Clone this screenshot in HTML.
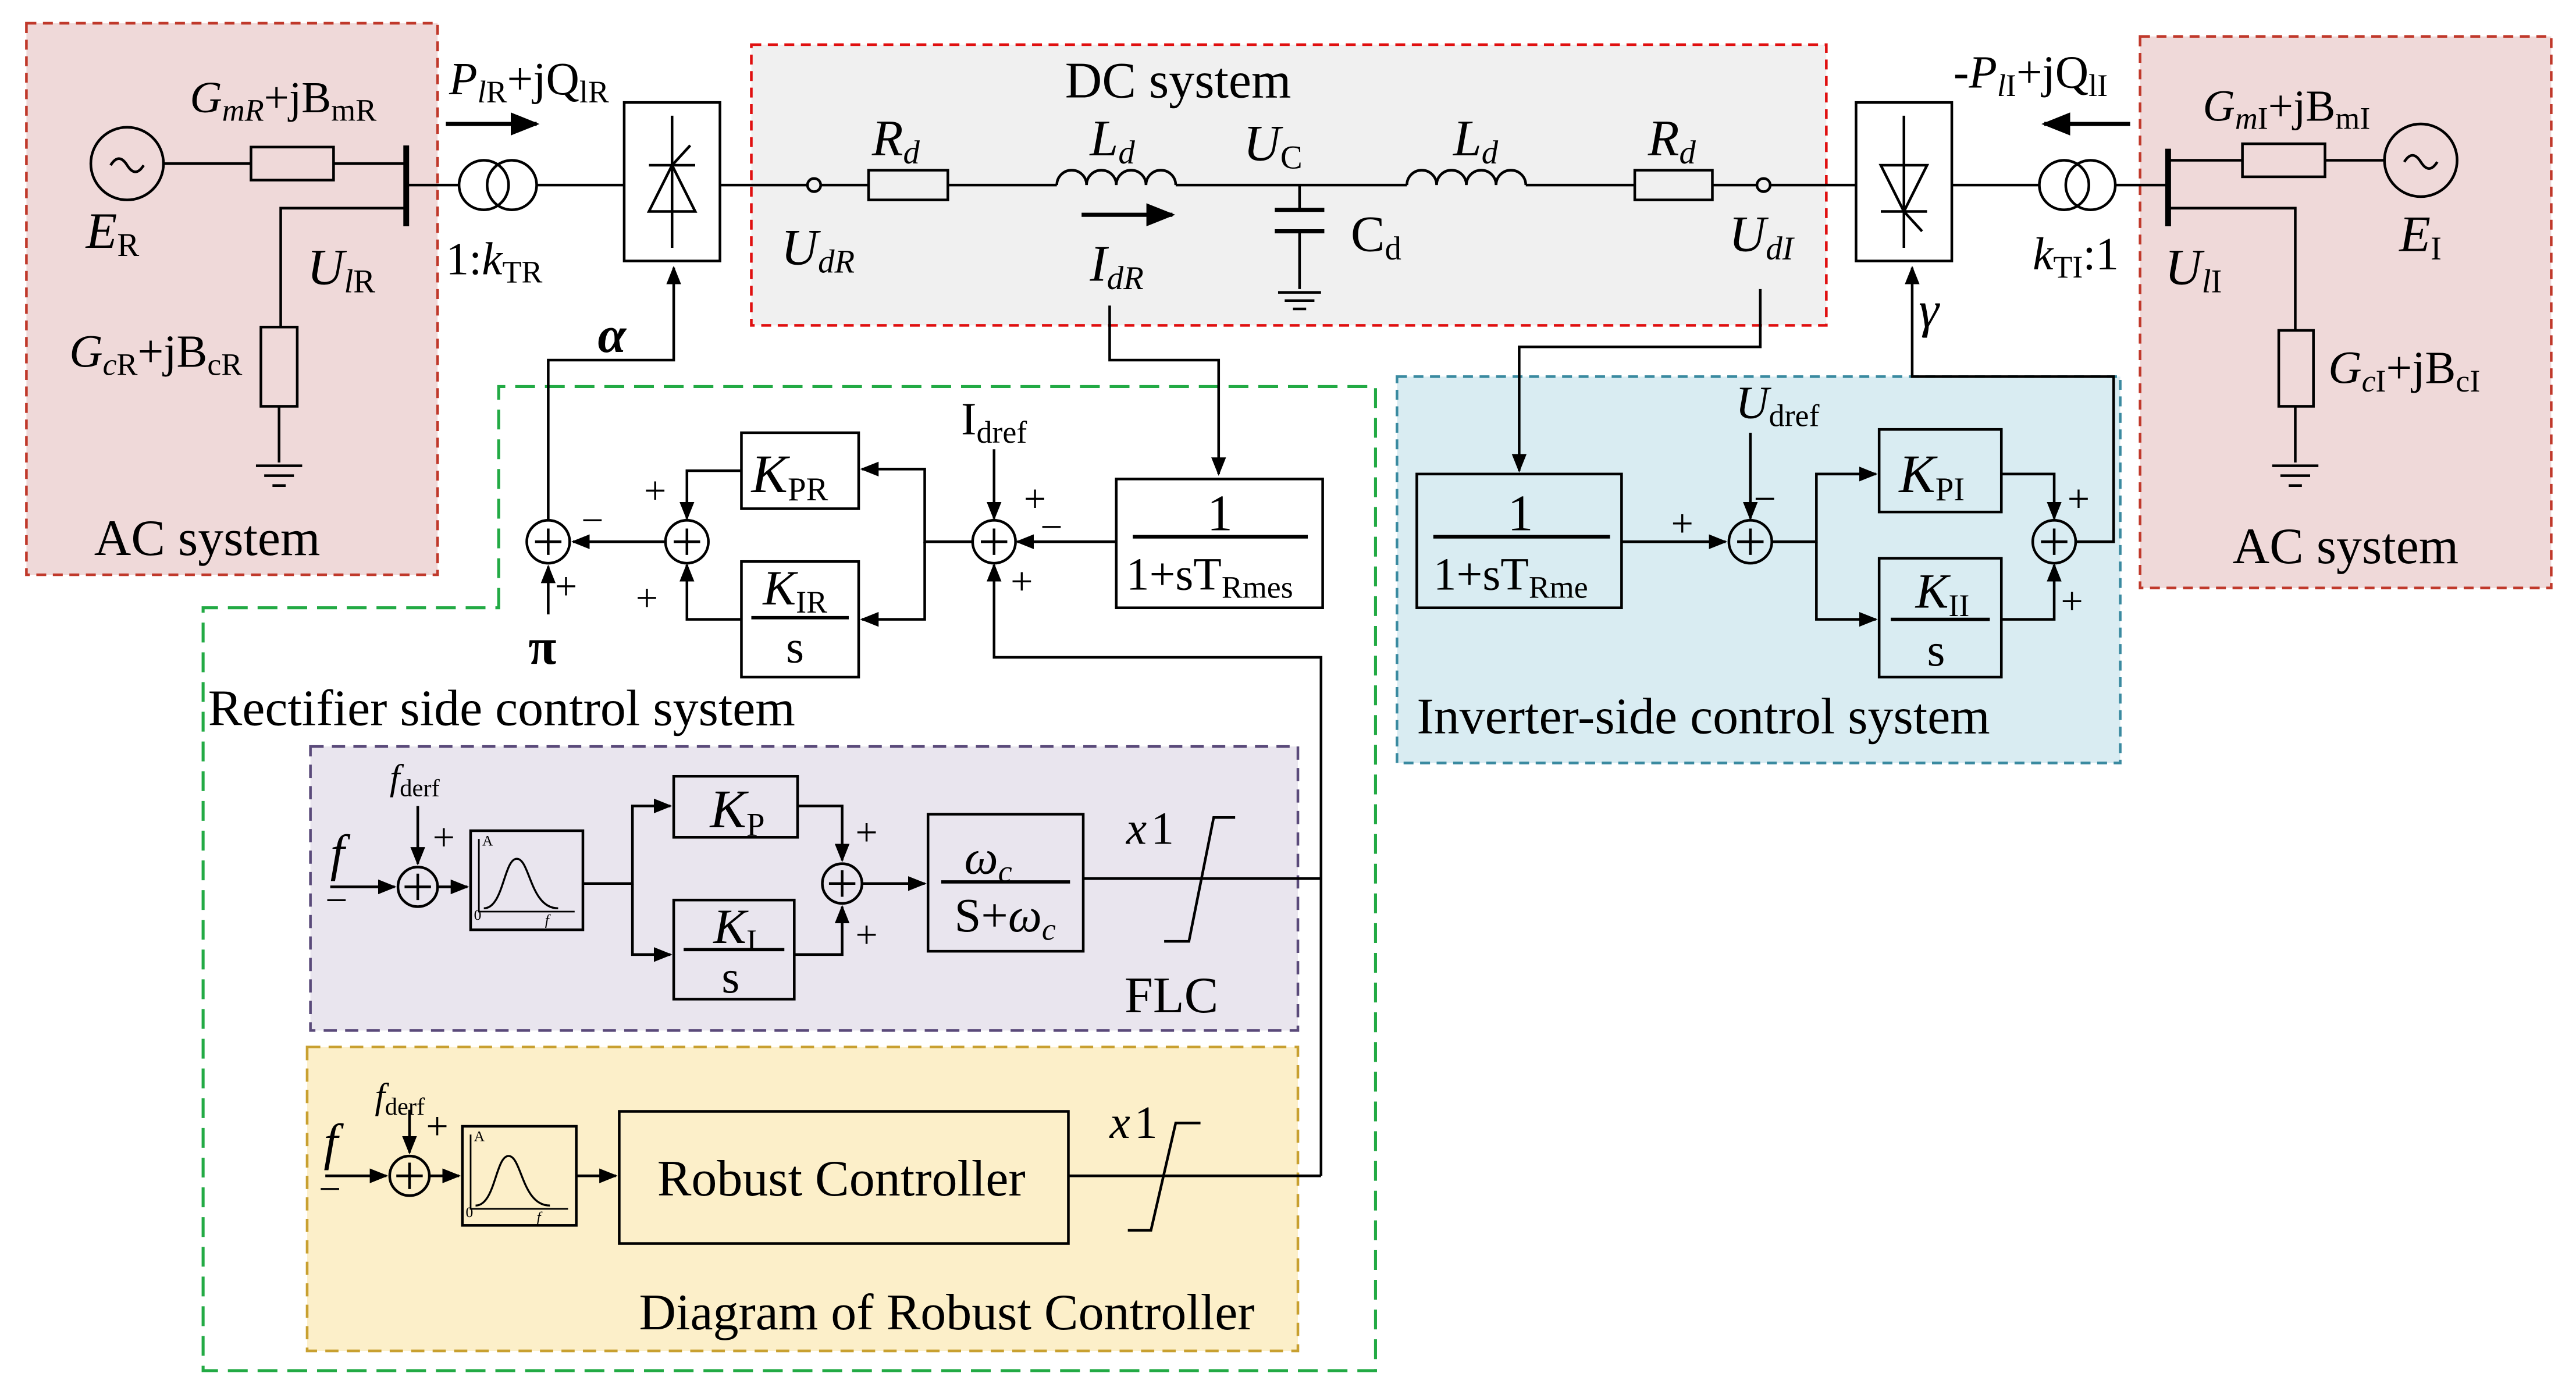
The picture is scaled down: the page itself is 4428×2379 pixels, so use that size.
<!DOCTYPE html>
<html><head><meta charset="utf-8"><style>
html,body{margin:0;padding:0;background:#fff;}
svg{display:block;}
text{font-family:"Liberation Serif",serif;fill:#000;}
</style></head><body>
<svg width="4428" height="2379" viewBox="0 0 1560 838" xmlns="http://www.w3.org/2000/svg">
<defs>
<marker id="a" viewBox="0 0 10 10" refX="9" refY="5" markerWidth="7" markerHeight="7" orient="auto"><path d="M0,1 L10,5 L0,9 z" fill="#000"/></marker>
</defs>
<rect width="1560" height="838" fill="#fff"/>
<rect x="16" y="14" width="249" height="334" fill="#efd9d9" stroke="#c0392b" stroke-width="1.6" stroke-dasharray="6,4"/>
<rect x="455" y="27" width="651" height="170" fill="#f0f0f0" stroke="#e01010" stroke-width="1.6" stroke-dasharray="6,4"/>
<rect x="1296" y="22" width="249" height="334" fill="#efd9d9" stroke="#c0392b" stroke-width="1.6" stroke-dasharray="6,4"/>
<path d="M302,368 L302,234 L833,234 L833,830 L123,830 L123,368 Z" fill="none" stroke="#22aa44" stroke-width="1.8" stroke-dasharray="12,6"/>
<rect x="846" y="228" width="438" height="234" fill="#d9ecf2" stroke="#3a8aa0" stroke-width="1.6" stroke-dasharray="6,4"/>
<rect x="188" y="452" width="598" height="172" fill="#e9e5ee" stroke="#5a4a7a" stroke-width="1.6" stroke-dasharray="8,5"/>
<rect x="186" y="634" width="600" height="184" fill="#fcefc9" stroke="#c8a030" stroke-width="1.6" stroke-dasharray="8,5"/>

<g stroke="#000" stroke-width="1.6" fill="none">
<circle cx="77" cy="99" r="22"/>
<path d="M67,100 q5,-8 10,0 q5,8 10,0"/>
<line x1="99" y1="99" x2="152" y2="99"/>
<rect x="152" y="89" width="50" height="20"/>
<line x1="202" y1="99" x2="246" y2="99"/>
<line x1="246" y1="88" x2="246" y2="137" stroke-width="3.5"/>
<path d="M246,126 L170,126 L170,198"/>
<rect x="158" y="198" width="22" height="48"/>
<line x1="169" y1="246" x2="169" y2="280"/>
<line x1="155" y1="282" x2="183" y2="282"/><line x1="160" y1="288" x2="178" y2="288"/><line x1="165" y1="294" x2="173" y2="294"/>
<line x1="246" y1="112" x2="278" y2="112"/>
<circle cx="293" cy="112" r="15"/><circle cx="310" cy="112" r="15"/>
<line x1="325" y1="112" x2="378" y2="112"/>
<rect x="378" y="62" width="58" height="96"/>
<line x1="407" y1="70" x2="407" y2="150"/>
<path d="M393,128 L421,128 L407,100 Z"/><line x1="393" y1="100" x2="421" y2="100"/><line x1="407" y1="100" x2="418" y2="88"/>
<line x1="436" y1="112" x2="489" y2="112"/>
<circle cx="493" cy="112" r="4"/>
<line x1="497" y1="112" x2="526" y2="112"/>
<rect x="526" y="103" width="48" height="18"/>
<line x1="574" y1="112" x2="640" y2="112"/>
<path d="M640,112 a9,9 0 0 1 18,0 a9,9 0 0 1 18,0 a9,9 0 0 1 18,0 a9,9 0 0 1 18,0"/>
<line x1="712" y1="112" x2="852" y2="112"/>
<line x1="787" y1="112" x2="787" y2="127"/>
<line x1="772" y1="127" x2="802" y2="127" stroke-width="2.5"/><line x1="772" y1="140" x2="802" y2="140" stroke-width="2.5"/>
<line x1="787" y1="140" x2="787" y2="175"/>
<line x1="774" y1="177" x2="800" y2="177"/><line x1="778" y1="182" x2="796" y2="182"/><line x1="783" y1="187" x2="791" y2="187"/>
<path d="M852,112 a9,9 0 0 1 18,0 a9,9 0 0 1 18,0 a9,9 0 0 1 18,0 a9,9 0 0 1 18,0"/>
<line x1="924" y1="112" x2="990" y2="112"/>
<rect x="990" y="103" width="47" height="18"/>
<line x1="1037" y1="112" x2="1064" y2="112"/>
<circle cx="1068" cy="112" r="4"/>
<line x1="1072" y1="112" x2="1124" y2="112"/>
<rect x="1124" y="62" width="58" height="96"/>
<line x1="1153" y1="70" x2="1153" y2="150"/>
<path d="M1139,100 L1167,100 L1153,128 Z"/><line x1="1139" y1="128" x2="1167" y2="128"/><line x1="1153" y1="128" x2="1164" y2="140"/>
<line x1="1182" y1="112" x2="1235" y2="112"/>
<circle cx="1250" cy="112" r="15"/><circle cx="1266" cy="112" r="15"/>
<line x1="1281" y1="112" x2="1313" y2="112"/>
<line x1="1313" y1="90" x2="1313" y2="137" stroke-width="3.5"/>
<line x1="1313" y1="97" x2="1358" y2="97"/>
<rect x="1358" y="87" width="50" height="20"/>
<line x1="1408" y1="97" x2="1444" y2="97"/>
<circle cx="1466" cy="97" r="22"/>
<path d="M1456,98 q5,-8 10,0 q5,8 10,0"/>
<path d="M1313,126 L1390,126 L1390,200"/>
<rect x="1380" y="200" width="21" height="46"/>
<line x1="1390" y1="246" x2="1390" y2="280"/>
<line x1="1376" y1="282" x2="1404" y2="282"/><line x1="1381" y1="288" x2="1399" y2="288"/><line x1="1386" y1="294" x2="1394" y2="294"/>

<path d="M332,315 L332,218 L408,218 L408,162" marker-end="url(#a)"/>
<path d="M672,185 L672,218 L738,218 L738,287" marker-end="url(#a)"/>
<rect x="676" y="290" width="125" height="78"/>
<line x1="686" y1="325" x2="792" y2="325" stroke-width="2.2"/>
<path d="M676,328 L616,328" marker-end="url(#a)"/>
<circle cx="602" cy="328" r="13"/>
<line x1="594" y1="328" x2="610" y2="328"/><line x1="602" y1="320" x2="602" y2="336"/>
<path d="M602,272 L602,314" marker-end="url(#a)"/>
<path d="M800,712 L800,398 L602,398 L602,342" marker-end="url(#a)"/>
<path d="M589,328 L560,328 L560,284 L522,284" marker-end="url(#a)"/>
<path d="M560,328 L560,375 L522,375" marker-end="url(#a)"/>
<rect x="449" y="262" width="71" height="46"/>
<rect x="449" y="340" width="71" height="70"/>
<line x1="455" y1="374" x2="514" y2="374" stroke-width="2"/>
<path d="M449,285 L416,285 L416,314" marker-end="url(#a)"/>
<path d="M449,375 L416,375 L416,342" marker-end="url(#a)"/>
<circle cx="416" cy="328" r="13"/>
<line x1="408" y1="328" x2="424" y2="328"/><line x1="416" y1="320" x2="416" y2="336"/>
<path d="M403,328 L347,328" marker-end="url(#a)"/>
<circle cx="332" cy="328" r="13"/>
<line x1="324" y1="328" x2="340" y2="328"/><line x1="332" y1="320" x2="332" y2="336"/>
<path d="M332,372 L332,343" marker-end="url(#a)"/>

<path d="M1066,175 L1066,210 L920,210 L920,285" marker-end="url(#a)"/>
<rect x="858" y="287" width="124" height="81"/>
<line x1="868" y1="325" x2="975" y2="325" stroke-width="2.2"/>
<path d="M982,328 L1045,328" marker-end="url(#a)"/>
<circle cx="1060" cy="328" r="13"/>
<line x1="1052" y1="328" x2="1068" y2="328"/><line x1="1060" y1="320" x2="1060" y2="336"/>
<path d="M1060,262 L1060,314" marker-end="url(#a)"/>
<path d="M1073,328 L1100,328 L1100,287 L1136,287" marker-end="url(#a)"/>
<path d="M1100,328 L1100,375 L1136,375" marker-end="url(#a)"/>
<rect x="1138" y="260" width="74" height="50"/>
<rect x="1138" y="338" width="74" height="72"/>
<line x1="1145" y1="375" x2="1205" y2="375" stroke-width="2"/>
<path d="M1212,287 L1244,287 L1244,314" marker-end="url(#a)"/>
<path d="M1212,375 L1244,375 L1244,342" marker-end="url(#a)"/>
<circle cx="1244" cy="328" r="13"/>
<line x1="1236" y1="328" x2="1252" y2="328"/><line x1="1244" y1="320" x2="1244" y2="336"/>
<path d="M1257,328 L1280,328 L1280,228 L1158,228 L1158,162" marker-end="url(#a)"/>

<path d="M200,537 L239,537" marker-end="url(#a)"/>
<circle cx="253" cy="537" r="12"/>
<line x1="245" y1="537" x2="261" y2="537"/><line x1="253" y1="529" x2="253" y2="545"/>
<path d="M253,488 L253,523" marker-end="url(#a)"/>
<path d="M265,537 L283,537" marker-end="url(#a)"/>
<rect x="285" y="503" width="68" height="60"/>
<path d="M290,508 L290,552 L348,552" stroke-width="1"/>
<path d="M293,550 C305,550 305,520 313,520 C321,520 321,550 338,550" stroke-width="1.2"/>
<path d="M353,535 L383,535 L383,488 L406,488" marker-end="url(#a)"/>
<path d="M383,535 L383,578 L406,578" marker-end="url(#a)"/>
<rect x="408" y="470" width="75" height="37"/>
<rect x="408" y="545" width="73" height="60"/>
<line x1="414" y1="575" x2="475" y2="575" stroke-width="2"/>
<path d="M483,488 L510,488 L510,521" marker-end="url(#a)"/>
<path d="M481,578 L510,578 L510,549" marker-end="url(#a)"/>
<circle cx="510" cy="535" r="12"/>
<line x1="502" y1="535" x2="518" y2="535"/><line x1="510" y1="527" x2="510" y2="543"/>
<path d="M522,535 L560,535" marker-end="url(#a)"/>
<rect x="562" y="493" width="94" height="83"/>
<line x1="570" y1="534" x2="648" y2="534" stroke-width="2"/>
<line x1="656" y1="532" x2="800" y2="532"/>
<path d="M705,570 L720,570 L735,495 L748,495"/>

<path d="M197,712 L234,712" marker-end="url(#a)"/>
<circle cx="248" cy="712" r="12"/>
<line x1="240" y1="712" x2="256" y2="712"/><line x1="248" y1="704" x2="248" y2="720"/>
<path d="M248,672 L248,698" marker-end="url(#a)"/>
<path d="M260,712 L278,712" marker-end="url(#a)"/>
<rect x="280" y="682" width="69" height="60"/>
<path d="M285,687 L285,732 L344,732" stroke-width="1"/>
<path d="M288,730 C300,730 300,700 308,700 C316,700 316,730 333,730" stroke-width="1.2"/>
<path d="M349,712 L373,712" marker-end="url(#a)"/>
<rect x="375" y="673" width="272" height="80"/>
<line x1="647" y1="712" x2="800" y2="712"/>
<path d="M683,745 L697,745 L712,680 L727,680"/>
</g>
<path d="M270,75 L325,75" stroke="#000" stroke-width="2.5" marker-end="url(#a)"/>
<path d="M655,130 L710,130" stroke="#000" stroke-width="2.5" marker-end="url(#a)"/>
<path d="M1290,75 L1238,75" stroke="#000" stroke-width="2.5" marker-end="url(#a)"/>

<g font-size="31">
<text x="115" y="68" font-style="italic" font-size="27">G<tspan font-size="19" dy="5">mR</tspan><tspan font-style="normal" dy="-5">+jB</tspan><tspan font-style="normal" font-size="19" dy="5">mR</tspan></text>
<text x="52" y="150" font-style="italic">E<tspan font-size="20" dy="5" font-style="normal">R</tspan></text>
<text x="186" y="172" font-style="italic">U<tspan font-size="20" dy="5">l</tspan><tspan font-size="20" font-style="normal">R</tspan></text>
<text x="42" y="222" font-style="italic" font-size="28">G<tspan font-size="19" dy="5">c</tspan><tspan font-size="19" font-style="normal">R</tspan><tspan font-style="normal" dy="-5">+jB</tspan><tspan font-style="normal" font-size="19" dy="5">cR</tspan></text>
<text x="57" y="336">AC system</text>
<text x="272" y="57" font-style="italic" font-size="28">P<tspan font-size="19" dy="5">l</tspan><tspan font-size="19" font-style="normal">R</tspan><tspan font-style="normal" dy="-5">+jQ</tspan><tspan font-style="normal" font-size="19" dy="5">lR</tspan></text>
<text x="270" y="166" font-size="28">1:<tspan font-style="italic">k</tspan><tspan font-size="19" dy="5">TR</tspan></text>
<text x="362" y="213" font-style="italic" font-weight="bold">α</text>
<text x="645" y="59">DC system</text>
<text x="528" y="94" font-style="italic">R<tspan font-size="20" dy="5">d</tspan></text>
<text x="660" y="94" font-style="italic">L<tspan font-size="20" dy="5">d</tspan></text>
<text x="753" y="97" font-style="italic">U<tspan font-size="20" dy="5" font-style="normal">C</tspan></text>
<text x="880" y="94" font-style="italic">L<tspan font-size="20" dy="5">d</tspan></text>
<text x="998" y="94" font-style="italic">R<tspan font-size="20" dy="5">d</tspan></text>
<text x="473" y="160" font-style="italic">U<tspan font-size="20" dy="5">dR</tspan></text>
<text x="660" y="170" font-style="italic">I<tspan font-size="20" dy="5">dR</tspan></text>
<text x="818" y="152">C<tspan font-size="20" dy="5">d</tspan></text>
<text x="1047" y="152" font-style="italic">U<tspan font-size="20" dy="5">dI</tspan></text>
<text x="1183" y="53" font-style="italic" font-size="28">-P<tspan font-size="19" dy="5">l</tspan><tspan font-size="19" font-style="normal">I</tspan><tspan font-style="normal" dy="-5">+jQ</tspan><tspan font-style="normal" font-size="19" dy="5">lI</tspan></text>
<text x="1334" y="73" font-style="italic" font-size="27">G<tspan font-size="19" dy="5">m</tspan><tspan font-size="19" font-style="normal">I</tspan><tspan font-style="normal" dy="-5">+jB</tspan><tspan font-style="normal" font-size="19" dy="5">mI</tspan></text>
<text x="1453" y="152" font-style="italic">E<tspan font-size="20" dy="5" font-style="normal">I</tspan></text>
<text x="1231" y="163" font-style="italic" font-size="28">k<tspan font-size="19" dy="5" font-style="normal">TI</tspan><tspan font-style="normal" dy="-5">:1</tspan></text>
<text x="1311" y="172" font-style="italic">U<tspan font-size="20" dy="5">l</tspan><tspan font-size="20" font-style="normal">I</tspan></text>
<text x="1162" y="198" font-style="italic">γ</text>
<text x="1410" y="232" font-style="italic" font-size="28">G<tspan font-size="19" dy="5">c</tspan><tspan font-size="19" font-style="normal">I</tspan><tspan font-style="normal" dy="-5">+jB</tspan><tspan font-style="normal" font-size="19" dy="5">cI</tspan></text>
<text x="1352" y="341">AC system</text>
<text x="582" y="263" font-size="28">I<tspan font-size="19" dy="5">dref</tspan></text>
<text x="1051" y="253" font-style="italic" font-size="28">U<tspan font-size="19" dy="5" font-style="normal">dref</tspan></text>
<text x="455" y="298" font-style="italic" font-size="33">K<tspan font-size="20" dy="5" font-style="normal">PR</tspan></text>
<text x="462" y="366" font-style="italic" font-size="30">K<tspan font-size="19" dy="5" font-style="normal">IR</tspan></text>
<text x="476" y="401" font-size="28">s</text>
<text x="731" y="321">1</text>
<text x="682" y="357" font-size="28">1+sT<tspan font-size="19" dy="5">Rmes</tspan></text>
<text x="913" y="321">1</text>
<text x="868" y="357" font-size="28">1+sT<tspan font-size="19" dy="5">Rme</tspan></text>
<text x="1150" y="298" font-style="italic" font-size="33">K<tspan font-size="20" dy="5" font-style="normal">PI</tspan></text>
<text x="1160" y="368" font-style="italic" font-size="30">K<tspan font-size="19" dy="5" font-style="normal">II</tspan></text>
<text x="1167" y="403" font-size="28">s</text>
<text x="320" y="402" font-weight="bold">π</text>
<text x="126" y="439">Rectifier side control system</text>
<text x="858" y="444">Inverter-side control system</text>
<text x="236" y="478" font-style="italic" font-size="22">f<tspan font-size="15" dy="4" font-style="normal">derf</tspan></text>
<text x="200" y="527" font-style="italic">f</text>
<text x="430" y="501" font-style="italic" font-size="33">K<tspan font-size="20" dy="5" font-style="normal">P</tspan></text>
<text x="432" y="571" font-style="italic" font-size="30">K<tspan font-size="19" dy="5" font-style="normal">I</tspan></text>
<text x="437" y="601" font-size="28">s</text>
<text x="584" y="529" font-style="italic" font-size="29">ω<tspan font-size="19" dy="5">c</tspan></text>
<text x="578" y="564" font-size="29">S+<tspan font-style="italic">ω</tspan><tspan font-size="19" dy="5" font-style="italic">c</tspan></text>
<text x="682" y="511" font-style="italic" font-size="28">x</text><text x="697" y="511" font-size="28">1</text>
<text x="681" y="613">FLC</text>
<text x="227" y="671" font-style="italic" font-size="22">f<tspan font-size="15" dy="4" font-style="normal">derf</tspan></text>
<text x="196" y="702" font-style="italic">f</text>
<text x="398" y="724">Robust Controller</text>
<text x="672" y="689" font-style="italic" font-size="28">x</text><text x="687" y="689" font-size="28">1</text>
<text x="387" y="805">Diagram of Robust Controller</text>
</g>
<g font-size="24">
<text x="390" y="305">+</text><text x="385" y="370">+</text>
<text x="352" y="323">−</text><text x="336" y="363">+</text>
<text x="620" y="310">+</text><text x="630" y="327">−</text><text x="612" y="360">+</text>
<text x="1012" y="325">+</text><text x="1062" y="310">−</text>
<text x="1252" y="310">+</text><text x="1248" y="372">+</text>
<text x="262" y="515">+</text><text x="197" y="553">−</text>
<text x="518" y="512">+</text><text x="518" y="574">+</text>
<text x="258" y="690">+</text><text x="193" y="728">−</text>
</g>
<g font-size="9"><text x="292" y="512">A</text><text x="287" y="557">0</text><text x="330" y="560" font-style="italic">f</text>
<text x="287" y="691">A</text><text x="282" y="737">0</text><text x="325" y="740" font-style="italic">f</text></g>
</svg>
</body></html>
